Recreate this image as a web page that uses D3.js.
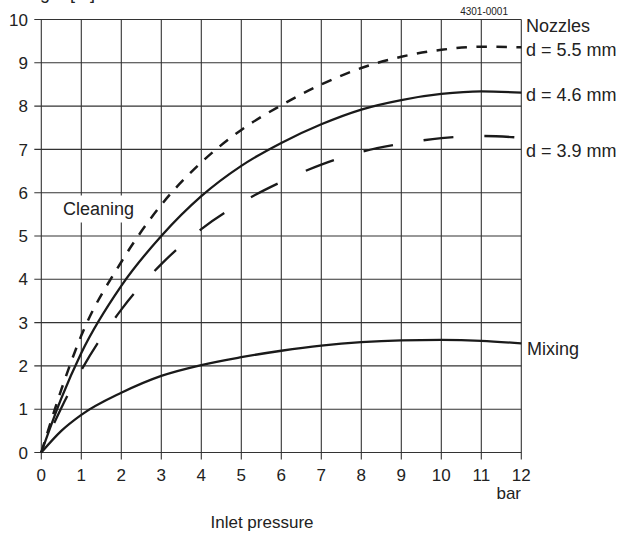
<!DOCTYPE html>
<html>
<head>
<meta charset="utf-8">
<script src="https://cdn.jsdelivr.net/npm/d3@7"></script>
<style>
  html, body { margin: 0; padding: 0; background: #fff; }
  svg { display: block; font-family: "Liberation Sans", Arial, sans-serif; }
</style>
</head>
<body>
<svg id="chart" width="624" height="535"></svg>
<script>
// ---- data ----
const pressure = [0, 0.5, 1, 2, 3, 4, 5, 6, 7, 8, 9, 10, 11, 12];
const nozzle55 = [0, 1.45, 2.7, 4.4, 5.72, 6.7, 7.45, 8.02, 8.5, 8.88, 9.14, 9.3, 9.37, 9.36];
const nozzle46 = [0, 1.25, 2.3, 3.85, 5.0, 5.92, 6.62, 7.15, 7.58, 7.92, 8.14, 8.28, 8.34, 8.31];
const nozzle39 = [0, 1.03, 1.9, 3.3, 4.35, 5.16, 5.77, 6.25, 6.65, 6.94, 7.13, 7.26, 7.31, 7.27];
const mixing   = [0, 0.5, 0.87, 1.38, 1.77, 2.02, 2.2, 2.35, 2.47, 2.55, 2.59, 2.6, 2.58, 2.52];
const xTicks = [0, 1, 2, 3, 4, 5, 6, 7, 8, 9, 10, 11, 12];
const yTicks = [0, 1, 2, 3, 4, 5, 6, 7, 8, 9, 10];
const seriesLabels = ["d = 5.5 mm", "d = 4.6 mm", "d = 3.9 mm"];

const svg = d3.select("#chart");
const x = d3.scaleLinear().domain([0, 12]).range([41.3, 521.3]);
const y = d3.scaleLinear().domain([0, 10]).range([452.5, 19.5]);

const gridColor = "#333";

// y-axis title, clipped at the top edge as in the reference
svg.append("text").attr("x", 95).attr("y", -1).attr("text-anchor", "end")
  .attr("font-size", 18).attr("fill", "#222").text("Throw length [m]");

// grid (lines extend past the plot as ticks)
const grid = svg.append("g");
grid.selectAll("line.h").data(yTicks).join("line")
  .attr("x1", x(0) - 7).attr("x2", x(12))
  .attr("y1", d => y(d)).attr("y2", d => y(d))
  .attr("stroke", gridColor).attr("stroke-width", 1.1);
grid.selectAll("line.v").data(xTicks).join("line")
  .attr("x1", d => x(d)).attr("x2", d => x(d))
  .attr("y1", y(10)).attr("y2", y(0) + 7)
  .attr("stroke", gridColor).attr("stroke-width", 1.1);

// tick labels
svg.append("g").selectAll("text").data(yTicks).join("text")
  .attr("x", 28).attr("y", d => y(d)).attr("dy", "0.36em")
  .attr("text-anchor", "end").attr("font-size", 17).attr("fill", "#222")
  .text(d => d);
svg.append("g").selectAll("text").data(xTicks).join("text")
  .attr("x", d => x(d)).attr("y", 481)
  .attr("text-anchor", "middle").attr("font-size", 17).attr("fill", "#222")
  .text(d => d);

svg.append("text").attr("x", 521).attr("y", 499).attr("text-anchor", "end")
  .attr("font-size", 17).attr("fill", "#222").text("bar");
svg.append("text").attr("x", 262).attr("y", 528).attr("text-anchor", "middle")
  .attr("font-size", 17).attr("fill", "#222").text("Inlet pressure");

// Cleaning label with white box
svg.append("rect").attr("x", 59).attr("y", 195.5).attr("width", 80).attr("height", 27).attr("fill", "#fff");
svg.append("text").attr("x", 63).attr("y", 215).attr("font-size", 18).attr("fill", "#222").text("Cleaning");

// curves
const line = d3.line().x((d, i) => x(pressure[i])).y(d => y(d)).curve(d3.curveMonotoneX);
const curves = [
  { values: nozzle55, dash: "10.5,9.5", offset: 0, width: 2.5 },
  { values: nozzle46, dash: null, offset: 0, width: 2.3 },
  { values: nozzle39, dash: "30,31", offset: 29, width: 2.3 },
  { values: mixing, dash: null, offset: 0, width: 2.3 }
];
svg.append("g").selectAll("path").data(curves).join("path")
  .attr("d", d => line(d.values))
  .attr("fill", "none").attr("stroke", "#1a1a1a")
  .attr("stroke-width", d => d.width)
  .attr("stroke-dasharray", d => d.dash)
  .attr("stroke-dashoffset", d => d.offset);

// right labels
svg.append("text").attr("x", 526).attr("y", 32).attr("font-size", 18).attr("fill", "#222").text("Nozzles");
const labelY = [56, 101, 157];
svg.append("g").selectAll("text").data(seriesLabels).join("text")
  .attr("x", 526).attr("y", (d, i) => labelY[i])
  .attr("font-size", 18).attr("fill", "#222").text(d => d);
svg.append("text").attr("x", 527).attr("y", 355).attr("font-size", 18).attr("fill", "#222").text("Mixing");

// drawing number
svg.append("text").attr("x", 508).attr("y", 15).attr("text-anchor", "end")
  .attr("font-size", 10).attr("fill", "#222").text("4301-0001");
</script>
</body>
</html>
